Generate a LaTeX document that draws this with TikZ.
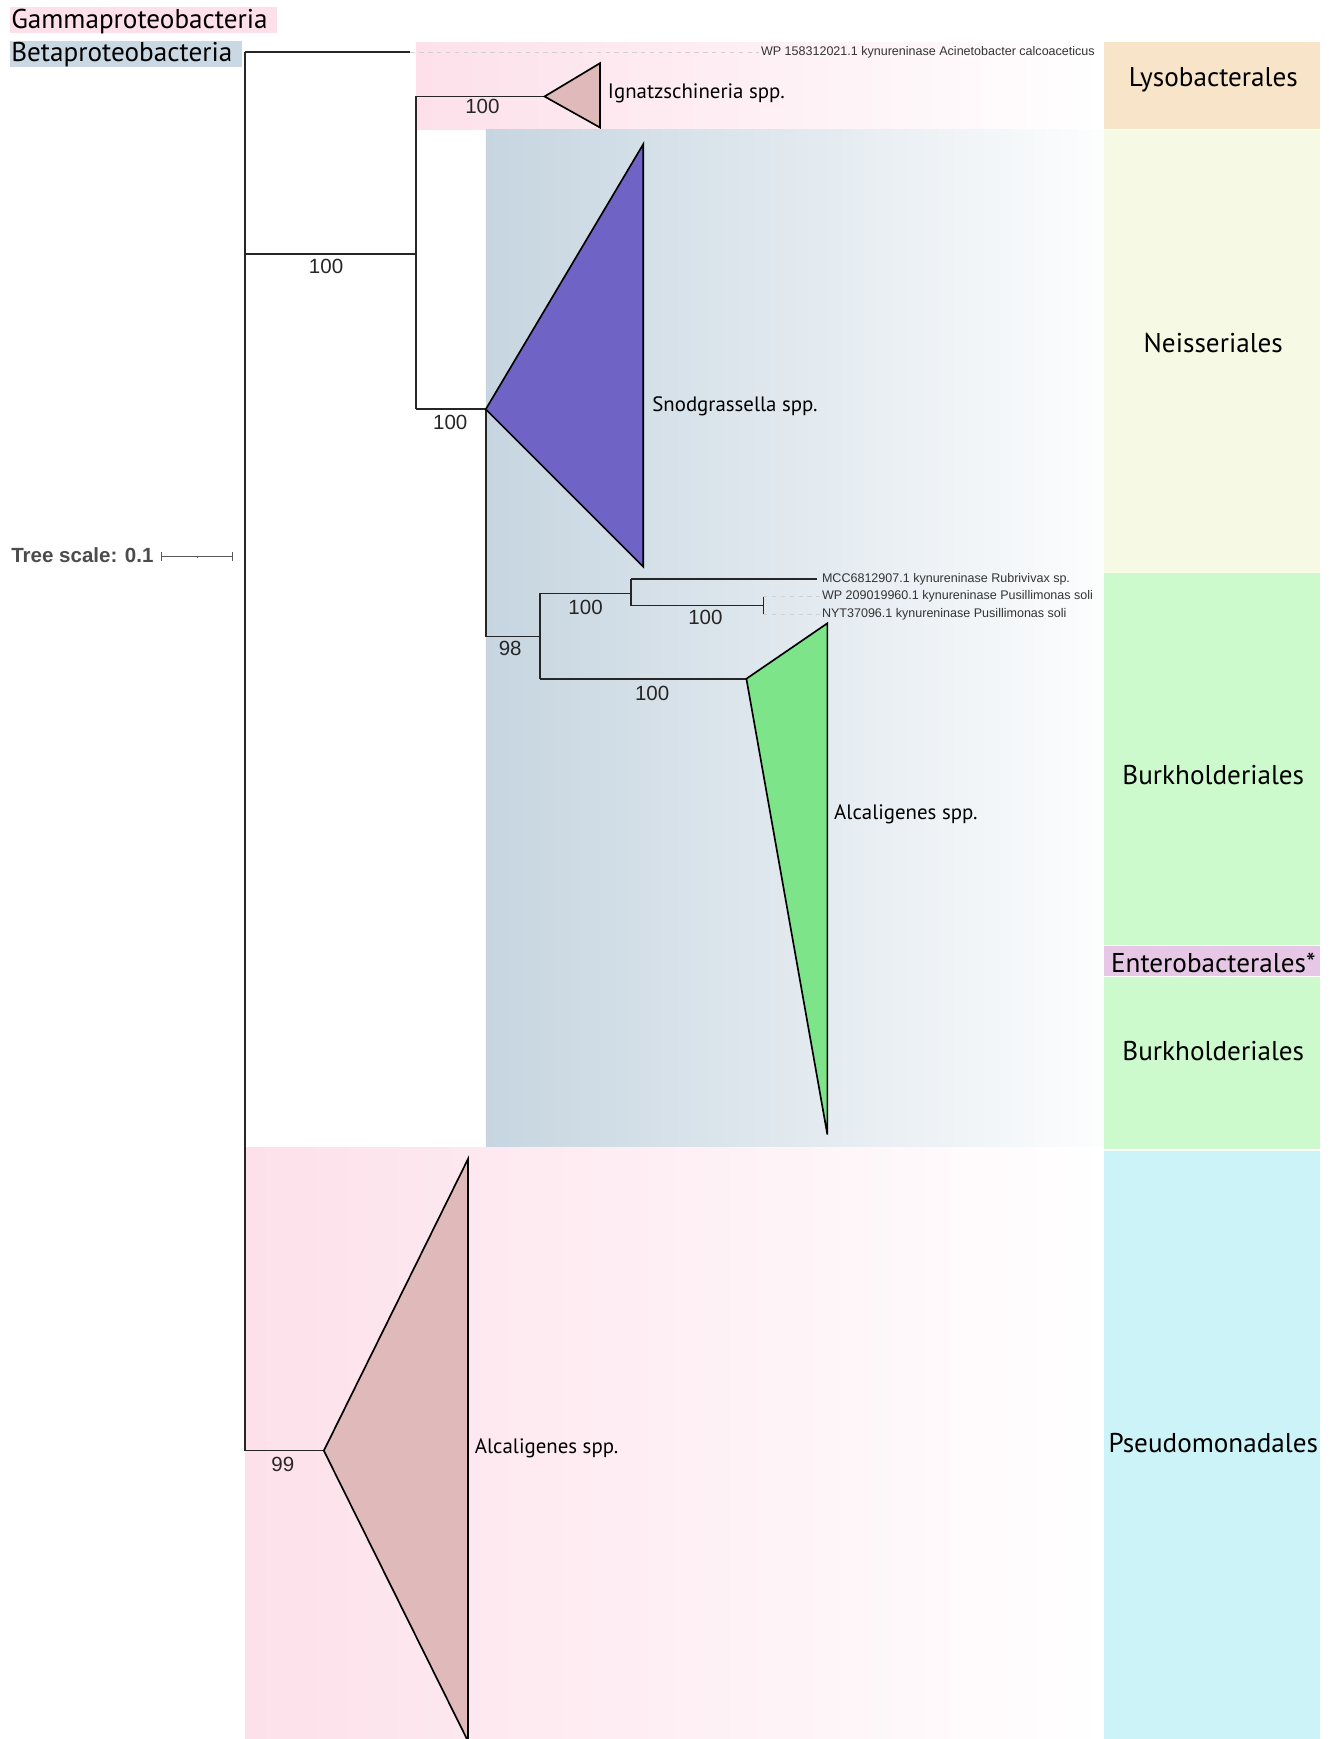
\documentclass[tikz,border=0pt]{standalone}
\usepackage{fontspec}
\usetikzlibrary{calc}
\setmainfont{PT Sans}
\newfontfamily\arialf{Liberation Sans}
\definecolor{gpink}{HTML}{FDE0EA}
\definecolor{bblue}{HTML}{C6D5E0}
\definecolor{bbluel}{HTML}{C9D8E3}
\definecolor{lyso}{HTML}{F8E4C8}
\definecolor{neis}{HTML}{F6FAE4}
\definecolor{burk}{HTML}{CCFACC}
\definecolor{entero}{HTML}{E6C8E6}
\definecolor{pseudo}{HTML}{CCF4F8}
\definecolor{tripink}{HTML}{E0B9BA}
\definecolor{snod}{HTML}{6F64C6}
\definecolor{alcg}{HTML}{7EE48A}
\begin{document}
\begin{tikzpicture}[x=1pt,y=-1pt,
  br/.style={line width=1.4pt, black!85},
  dsh/.style={dash pattern=on 4pt off 4pt, line width=0.6pt, black!18},
  tri/.style={draw=black, line width=1.5pt, line join=miter},
  big/.style={font=\fontsize{24.5}{28}\selectfont, inner sep=0pt},
  mid/.style={font=\fontsize{18.8}{22}\selectfont, anchor=west, inner sep=0pt},
  sm/.style={font=\arialf\fontsize{11.3}{13}\selectfont, text=black!80, anchor=west, inner sep=0pt},
  num/.style={font=\arialf\fontsize{18.5}{21}\selectfont, inner sep=0pt, text=black!85}]
\useasboundingbox (0,0) rectangle (1204,1568);
\fill[white] (0,0) rectangle (1204,1568);
% clade backgrounds
\shade[left color=gpink, right color=white] (375,38) rectangle (995,117);
\shade[left color=bblue, right color=white!96!bblue] (438,117) rectangle (995,1035);
\shade[left color=gpink, right color=white] (221,1035) rectangle (995,1568);
% order column
\fill[lyso] (995,38) rectangle (1190,116.5);
\fill[neis] (995,117.5) rectangle (1190,517);
\fill[burk] (995,517) rectangle (1190,852);
\fill[entero] (995,853) rectangle (1190,880);
\fill[burk] (995,881) rectangle (1190,1036);
\fill[pseudo] (995,1037.5) rectangle (1190,1568);
\node[big] (lyso) at (1094,72) {Lysobacterales};
\node[big] (neis) at (1094,309) {Neisseriales};
\node[big] (burk1) at (1094,699) {Burkholderiales};
\node[big] (ent) at (1094,868) {Enterobacterales*};
\node[big] (burk2) at (1094,948) {Burkholderiales};
\node[big] (pse) at (1094,1301) {Pseudomonadales};
% class legend
\fill[gpink] (9,6) rectangle (250,30);
\node[big, anchor=west] (gam) at (10,19.5) {Gammaproteobacteria};
\fill[bbluel] (9,37) rectangle (218,60);
\node[big, anchor=west] (bet) at (10,49.5) {Betaproteobacteria};
% tree coordinates
\coordinate (rt) at (221,47);
\coordinate (rb) at (221,1308);
\coordinate (aci) at (370,47);
\coordinate (acid) at (684,47);
\coordinate (rA) at (221,229);
\coordinate (A) at (375,229);
\coordinate (At) at (375,87);
\coordinate (Ab) at (375,369);
\coordinate (ign) at (491,87);
\coordinate (C) at (438,369);
\coordinate (Cb) at (438,574);
\coordinate (D) at (487,574);
\coordinate (Dt) at (487,535);
\coordinate (Db) at (487,612);
\coordinate (Et) at (569,522);
\coordinate (E) at (569,535);
\coordinate (Eb) at (569,546);
\coordinate (mcc) at (737,522);
\coordinate (F) at (688,546);
\coordinate (Ft) at (688,538);
\coordinate (Fb) at (688,554);
\coordinate (Ftd) at (739,538);
\coordinate (Fbd) at (739,554);
\coordinate (alc1) at (673,612);
\coordinate (alc2) at (292,1308);
% branches
\draw[br] (rt) -- (rb);
\draw[br] (rt) -- (aci);
\draw[dsh] (aci) -- (acid);
\draw[br] (rA) -- (A);
\draw[br] (At) -- (Ab);
\draw[br] (At) -- (ign);
\draw[br] (Ab) -- (C);
\draw[br] (C) -- (Cb) -- (D);
\draw[br] (Dt) -- (Db);
\draw[br] (Dt) -- (E);
\draw[br] (Et) -- (Eb);
\draw[br] (Et) -- (mcc);
\draw[br] (Eb) -- (F);
\draw[line width=0.9pt, black!85] (Ft) -- (Fb);
\draw[dsh] (Ft) -- (Ftd);
\draw[dsh] (Fb) -- (Fbd);
\draw[br] (Db) -- (alc1);
\draw[br] (rb) -- (alc2);
% collapsed clades
\filldraw[tri, fill=tripink] (ign) -- (541,57) -- (541,115) -- cycle;
\filldraw[tri, fill=snod] (C) -- (580,130) -- (580,511) -- cycle;
\filldraw[tri, fill=alcg] (alc1) -- (746,562) -- (746,1023) -- cycle;
\filldraw[tri, fill=tripink] (alc2) -- (422,1045) -- (422,1570) -- cycle;
% leaf labels
\node[sm] (l1) at (686,47) {WP 158312021.1 kynureninase Acinetobacter calcoaceticus};
\node[sm] (l2) at (741,522) {MCC6812907.1 kynureninase Rubrivivax sp.};
\node[sm] (l3) at (741,538) {WP 209019960.1 kynureninase Pusillimonas soli};
\node[sm] (l4) at (741,554) {NYT37096.1 kynureninase Pusillimonas soli};
\node[mid] (ignl) at (548,84) {Ignatzschineria spp.};
\node[mid] (snodl) at (588,366) {Snodgrassella spp.};
\node[mid] (alcl1) at (752,734) {Alcaligenes spp.};
\node[mid] (alcl2) at (428,1306) {Alcaligenes spp.};
% bootstrap values
\node[num] (b1) at (435,96) {100};
\node[num] (b2) at (294,240) {100};
\node[num] (b3) at (406,381) {100};
\node[num] (b4) at (528,548) {100};
\node[num] (b5) at (636,557) {100};
\node[num] (b6) at (460,585) {98};
\node[num] (b7) at (588,625) {100};
\node[num] (b8) at (255,1320) {99};
% tree scale
\node[font=\arialf\bfseries\fontsize{18.5}{21}\selectfont, text=black!70, anchor=west, inner sep=0pt] (ts) at (10,501) {Tree scale: 0.1};
\coordinate (s1) at (146,502);
\coordinate (s2) at (210,502);
\draw[line width=0.9pt, black!65] (s1) -- (s2);
\draw[line width=0.9pt, black!65] ($(s1)+(0,-4)$) -- ($(s1)+(0,4)$);
\draw[line width=0.9pt, black!65] ($(s2)+(0,-4)$) -- ($(s2)+(0,4)$);
\draw[line width=0.9pt, black!65] (178,501) -- (178,503);
\end{tikzpicture}
\end{document}
